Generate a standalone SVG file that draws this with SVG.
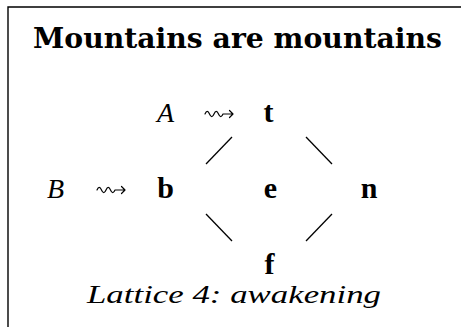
<svg xmlns="http://www.w3.org/2000/svg" width="461" height="327" viewBox="0 0 461 327">
<style>
text{font-family:"Liberation Serif","DejaVu Serif",serif;fill:#000}
.title{font-family:"DejaVu Serif","Liberation Serif",serif;font-size:28px;font-weight:bold}
.it{font-size:28px;font-style:italic}
.bf{font-size:30px;font-weight:bold}
.cap{font-family:"Liberation Serif",serif;font-size:26px;font-style:italic}
.edge{stroke:#000;stroke-width:1.3;fill:none}
.sq{stroke:#000;stroke-width:1.2;fill:none;stroke-linecap:round;stroke-linejoin:round}
</style>
<rect width="461" height="327" fill="#fff"/>
<path d="M8 340 V7 H470" stroke="#000" stroke-width="1.4" fill="none"/>
<text class="title" x="33" y="48" textLength="409" lengthAdjust="spacingAndGlyphs">Mountains are mountains</text>
<g id="connectors">
<line class="edge" x1="232" y1="137" x2="206" y2="164"/>
<line class="edge" x1="306" y1="137" x2="332" y2="164"/>
<line class="edge" x1="206" y1="214" x2="232" y2="241"/>
<line class="edge" x1="332" y1="214" x2="306" y2="241"/>
<path class="sq" d="M205 114 c1.5 -3.5 3 -3.5 4.5 0 s3 3.5 4.5 0 s3 -3.5 4.5 0 s3 3.5 4.5 0 L233 114 M229.5 110.5 L233 114 L229.5 117.5"/>
<path class="sq" d="M97 190 c1.5 -3.5 3 -3.5 4.5 0 s3 3.5 4.5 0 s3 -3.5 4.5 0 s3 3.5 4.5 0 L125 190 M121.5 186.5 L125 190 L121.5 193.5"/>
</g>
<g id="A"><text class="it" x="165.5" y="122" text-anchor="middle">A</text></g>
<g id="t"><text class="bf" x="268.5" y="122" text-anchor="middle">t</text></g>
<g id="B"><text class="it" x="55.5" y="198" text-anchor="middle">B</text></g>
<g id="b"><text class="bf" x="165.5" y="198" text-anchor="middle">b</text></g>
<g id="e"><text class="bf" x="270.5" y="198" text-anchor="middle">e</text></g>
<g id="n"><text class="bf" x="369" y="198" text-anchor="middle">n</text></g>
<g id="f"><text class="bf" x="269.5" y="274" text-anchor="middle">f</text></g>
<text class="cap" x="87" y="303" textLength="294" lengthAdjust="spacingAndGlyphs">Lattice 4: awakening</text>
</svg>
